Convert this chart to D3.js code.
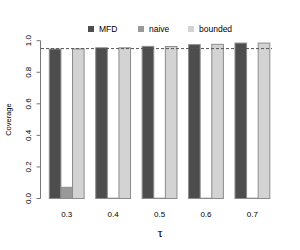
<!DOCTYPE html>
<html>
<head>
<meta charset="utf-8">
<script src="https://cdn.jsdelivr.net/npm/d3@7"></script>
<style>
  body { margin: 0; background: #fff; }
  text { font-family: "Liberation Sans", Arial, sans-serif; fill: #000; }
</style>
</head>
<body>
<svg id="chart" width="300" height="250"></svg>
<script>
// data
const taus = ['0.3', '0.4', '0.5', '0.6', '0.7'];
const methods = ['MFD', 'naive', 'bounded'];
const mfd = [0.947, 0.955, 0.964, 0.975, 0.985];
const naive = [0.071, 0.002, 0.002, 0.002, 0.002];
const bounded = [0.948, 0.955, 0.963, 0.977, 0.985];
const yTicks = [0, 0.2, 0.4, 0.6, 0.8, 1.0];
const nominal = 0.95;

const colors = { MFD: '#4d4d4d', naive: '#999999', bounded: '#d3d3d3' };
const series = { MFD: mfd, naive: naive, bounded: bounded };

const svg = d3.select('#chart');

const y = d3.scaleLinear().domain([0, 1]).range([198.5, 40.7]);

// groups of 3 bars with one bar of space before each group
const x0 = d3.scaleBand()
  .domain(taus)
  .range([37.7, 269.8])
  .paddingInner(0.25)
  .paddingOuter(0.125)
  .align(1);
const x1 = d3.scaleBand()
  .domain(methods)
  .range([0, x0.bandwidth()]);

// bars
const groups = svg.append('g').selectAll('g')
  .data(taus)
  .enter()
  .append('g')
  .attr('transform', d => 'translate(' + x0(d) + ',0)');

groups.selectAll('rect')
  .data((d, i) => methods.map(m => ({ m: m, v: series[m][i] })))
  .enter()
  .append('rect')
  .attr('x', d => x1(d.m))
  .attr('y', d => y(d.v))
  .attr('width', x1.bandwidth())
  .attr('height', d => y(0) - y(d.v))
  .style('fill', d => colors[d.m])
  .style('stroke', '#8c8c8c')
  .style('stroke-width', 1);

// nominal level
svg.append('line')
  .attr('x1', 41).attr('x2', 272)
  .attr('y1', y(nominal)).attr('y2', y(nominal))
  .style('stroke', '#555')
  .style('stroke-width', 1)
  .style('stroke-dasharray', '3,2');

// y axis
const yAxis = svg.append('g').attr('transform', 'translate(40.5,0)');
yAxis.append('line')
  .attr('x1', 0).attr('x2', 0)
  .attr('y1', y(0)).attr('y2', y(1))
  .style('stroke', '#777');
yAxis.selectAll('line.tick')
  .data(yTicks)
  .enter()
  .append('line')
  .attr('class', 'tick')
  .attr('x1', -4).attr('x2', 0)
  .attr('y1', d => y(d)).attr('y2', d => y(d))
  .style('stroke', '#777');
yAxis.selectAll('text')
  .data(yTicks)
  .enter()
  .append('text')
  .attr('transform', d => 'translate(-10,' + y(d) + ')rotate(-90)')
  .attr('text-anchor', 'middle')
  .style('font-size', '8px')
  .text(d => d.toFixed(1));

svg.append('text')
  .attr('transform', 'translate(11,' + (y(0) + y(1)) / 2 + ')rotate(-90)')
  .attr('text-anchor', 'middle')
  .style('font-size', '7.5px')
  .text('Coverage');

// x labels
svg.append('g').selectAll('text')
  .data(taus)
  .enter()
  .append('text')
  .attr('x', d => x0(d) + x0.bandwidth() / 2)
  .attr('y', 217)
  .attr('text-anchor', 'middle')
  .style('font-size', '8px')
  .text(d => d);

svg.append('text')
  .attr('x', 160)
  .attr('y', 237)
  .attr('text-anchor', 'middle')
  .style('font-family', '"Liberation Serif", "DejaVu Serif", serif')
  .style('font-size', '13px')
  .text('τ');

// legend
const legX = [88, 138, 188];
const legend = svg.append('g').selectAll('g')
  .data(methods)
  .enter()
  .append('g')
  .attr('transform', (d, i) => 'translate(' + legX[i] + ',29)');
legend.append('rect')
  .attr('x', 0).attr('y', -3)
  .attr('width', 6).attr('height', 6)
  .style('fill', d => colors[d]);
legend.append('text')
  .attr('x', 11)
  .attr('y', 3)
  .style('font-size', '8.5px')
  .text(d => d);
</script>
</body>
</html>
